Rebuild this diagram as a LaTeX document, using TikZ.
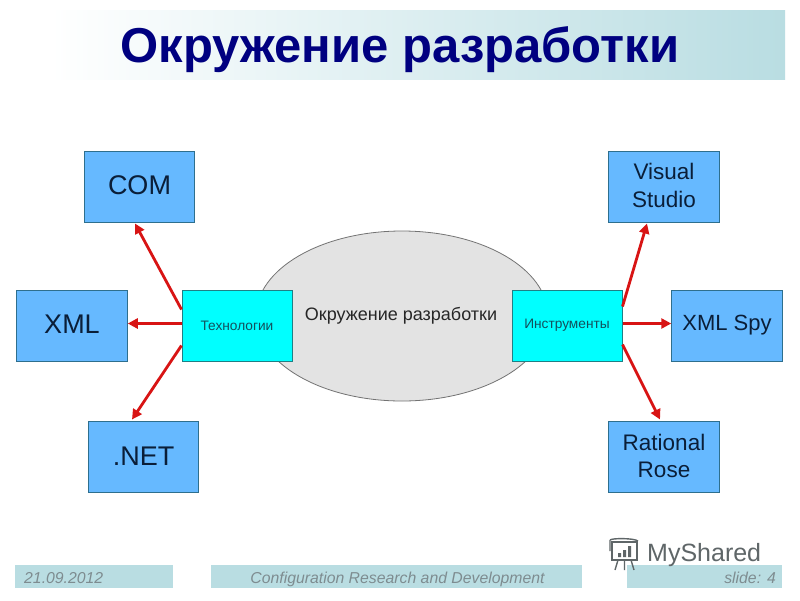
\documentclass[tikz,border=0pt]{standalone}
\usepackage{fontspec}
\setmainfont{Liberation Sans}
\usetikzlibrary{calc,arrows.meta,shapes.geometric}
\definecolor{bandc}{HTML}{B9DDE2}
\definecolor{bluebox}{HTML}{66B9FF}
\definecolor{edgec}{HTML}{2E6F8E}
\definecolor{cyanfill}{HTML}{00FFFF}
\definecolor{cyanedge}{HTML}{1F7F85}
\definecolor{cyantext}{HTML}{14505C}
\definecolor{bluetext}{HTML}{0A1E38}
\definecolor{titlec}{HTML}{000080}
\definecolor{arrowc}{HTML}{D81414}
\definecolor{footc}{HTML}{7E8C90}
\definecolor{wmark}{HTML}{5F6668}
\tikzset{
  bluenode/.style={draw=edgec,line width=1pt,fill=bluebox,minimum width=110.5pt,minimum height=71pt,inner sep=0pt,align=center,text=bluetext,font=\fontsize{27}{27}\selectfont},
  cyannode/.style={draw=cyanedge,line width=1pt,fill=cyanfill,minimum width=110pt,minimum height=71pt,inner sep=0pt,align=center,text=cyantext,font=\fontsize{13.7}{16}\selectfont},
  redarrow/.style={draw=arrowc,line width=2.8pt,-{Triangle[length=10pt,width=10pt]}},
  footbar/.style={fill=bandc,minimum width=10pt,minimum height=23pt,inner sep=0pt},
  foottext/.style={text=footc,inner sep=0pt,font=\itshape\fontsize{15.8}{18}\selectfont},
}
\begin{document}
\begin{tikzpicture}[x=1pt,y=-1pt]
\useasboundingbox (0,0) rectangle (800,600);
\fill[white] (0,0) rectangle (800,600);
\shade[left color=white,right color=bandc,shading angle=90] (50,10) rectangle (785,79);
\node[text=titlec,font=\bfseries\fontsize{49}{54}\selectfont,anchor=center] (title) at (400,50) {Окружение разработки};

\node[draw=black!55,line width=0.8pt,fill=black!11,ellipse,minimum width=292pt,minimum height=170pt,inner sep=0pt] (env) at (402,316) {};
\node[font=\fontsize{18}{21}\selectfont,text=black!85] (envlabel) at (401,315.5) {Окружение разработки};

\node[cyannode] (tech) at (237,325.5) {Технологии};
\node[cyannode] (tools) at (567,325.5) {Инструменты};

\node[bluenode] (com) at (139.5,186.5) {\raisebox{3pt}{COM}};
\node[bluenode] (xml) at (72,325.5) {\raisebox{2pt}{XML}};
\node[bluenode] (net) at (143.5,457) {\raisebox{1pt}{.NET}};
\node[bluenode,font=\fontsize{22.5}{27}\selectfont] (vs) at (664,186.5) {\raisebox{2pt}{\shortstack{Visual\\[8pt]Studio}}};
\node[bluenode,font=\fontsize{22}{24}\selectfont] (spy) at (727,325.5) {\raisebox{-1pt}{XML Spy}};
\node[bluenode,font=\fontsize{22.5}{27}\selectfont] (rose) at (664,457) {\raisebox{2pt}{\shortstack{Rational\\[8pt]Rose}}};

\coordinate (xmlmid) at (0,323.5);
\draw[redarrow] ([yshift=-20pt]tech.north west) -- ([xshift=-4.5pt,yshift=-1pt]com.south);
\draw[redarrow] ([yshift=2pt]tech.west) -- (xml.east |- xmlmid);
\draw[redarrow] ([yshift=16pt]tech.south west) -- ([xshift=-11.5pt,yshift=1.5pt]net.north);
\draw[redarrow] ([yshift=-17pt]tools.north east) -- ([xshift=-17pt,yshift=-1pt]vs.south);
\draw[redarrow] ([yshift=2pt]tools.east) -- (spy.west |- xmlmid);
\draw[redarrow] ([yshift=17pt]tools.south east) -- ([xshift=-4pt,yshift=1.5pt]rose.north);

\node[footbar,minimum width=158pt] (f1) at (94,576.5) {};
\node[footbar,minimum width=371pt] (f2) at (396.5,576.5) {};
\node[footbar,minimum width=155pt] (f3) at (704.5,576.5) {};
\node[foottext,anchor=base west] (t1) at (24,583) {21.09.2012};
\node[foottext,anchor=base] (t2) at (397.5,583) {Configuration Research and Development};
\node[foottext,anchor=base east] (t3) at (776,583) {slide: 4};

\node[text=wmark,font=\fontsize{25}{28}\selectfont,anchor=west,inner sep=0pt] (mark) at (647,555) {MyShared};
\begin{scope}[draw=wmark,line width=1.4pt]
\draw (612,542) rectangle (637,560);
\draw (610,540) -- (610,551) (610,540) .. controls (612,538) and (634,538) .. (638,541);
\draw (618,560) -- (615,570) (631,560) -- (634,570) (624.5,560) -- (624.5,570);
\fill[wmark] (618,553) rectangle (621,557) (623,550) rectangle (626,557) (628,546) rectangle (631,557);
\end{scope}
\end{tikzpicture}
\end{document}
